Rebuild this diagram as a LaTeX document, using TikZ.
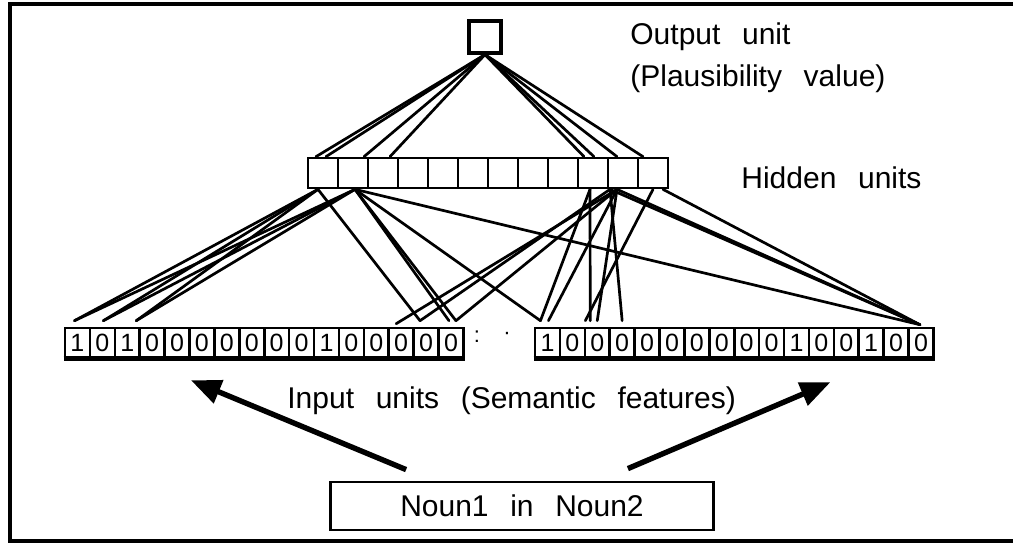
\documentclass[tikz,border=0pt]{standalone}
\usepackage{fontspec}
\setmainfont{Liberation Sans}[WordSpace=2.6]
\usetikzlibrary{arrows.meta,calc}
\begin{document}
\begin{tikzpicture}[x=0.5pt,y=-0.5pt,
  every node/.style={font=\fontsize{15}{18}\selectfont},
  link/.style={line width=1.35pt, line cap=round},
  unitbox/.style={draw, line width=1.6pt, minimum width=16pt, minimum height=16pt, inner sep=0pt},
  hcell/.style={draw, line width=1.35pt, minimum width=15pt, minimum height=15pt, inner sep=0pt},
  icell/.style={draw, line width=1.3pt, minimum width=12.45pt, minimum height=14.5pt, inner sep=0pt, font=\fontsize{12.5}{12.5}\selectfont},
  txt/.style={anchor=west, inner sep=0pt},
  bigarrow/.style={line width=2.7pt, -{Triangle[length=15pt,width=12pt]}},
  framestyle/.style={line width=1.6pt}]

\useasboundingbox (0,0) rectangle (1013,558);
\draw[framestyle] (1013,4) -- (10,4) -- (10,541) -- (1013,541);

% output unit
\node[unitbox] (out) at (485,37) {};
\node[txt] (outlab) at (630,37) {Output unit};
\node[txt] (outlab2) at (630,79) {(Plausibility value)};

% hidden units
\foreach \i in {1,...,12}
  \node[hcell] (h\i) at ({308+30*(\i-0.5)},173) {};
\node[txt] (hidlab) at (741,178) {Hidden units};

% input units
\foreach \v [count=\i] in {1,0,1,0,0,0,0,0,0,0,1,0,0,0,0,0}
  \node[icell] (a\i) at ({65+24.9*(\i-0.5)},342.5) {\v};
\foreach \v [count=\i] in {1,0,0,0,0,0,0,0,0,0,1,0,0,1,0,0}
  \node[icell] (b\i) at ({535+24.9*(\i-0.5)},342.5) {\v};
\draw[line width=2.2pt] (a1.south west) -- (a16.south east);
\draw[line width=2.2pt] (b1.south west) -- (b16.south east);
\node[inner sep=0pt, font=\fontsize{11}{11}\selectfont] (colon) at (477,337) {:};
\node[inner sep=0pt, font=\fontsize{11}{11}\selectfont] (dot) at (507,336) {·};

\node[txt] (inlab) at (287,401) {Input units (Semantic features)};

% noun box
\node[draw, line width=1.4pt, minimum width=191.5pt, minimum height=24pt, inner sep=0pt] (noun) at (522,506) {Noun1 in Noun2};

% ports on hidden layer (top)
\coordinate (t1) at ($(h1.north)+(-7,0)$);
\coordinate (t2) at ($(h1.north)+(3,0)$);
\coordinate (t3) at ($(h2.north)+(11,0)$);
\coordinate (t4) at ($(h3.north)+(7,0)$);
\coordinate (t5) at ($(h10.north)+(-9,0)$);
\coordinate (t6) at ($(h10.north)+(1,0)$);
\coordinate (t7) at ($(h11.north)+(-6,0)$);
\coordinate (t8) at ($(h12.north)+(-10,0)$);
\foreach \t in {t1,t2,t3,t4,t5,t6,t7,t8}
  \draw[link] (out.south) -- (\t);

% ports on hidden layer (bottom)
\coordinate (pA) at ($(h1.south)+(-5,0)$);
\coordinate (pB) at ($(h2.south)+(2,0)$);
\coordinate (pC) at ($(h10.south)+(-3,0)$);
\coordinate (pD) at ($(h11.south)+(-6,0)$);
\coordinate (pD2) at ($(h11.south)+(-13,0)$);
\coordinate (pE) at ($(h12.south)+(0,0)$);
\coordinate (pE2) at ($(h12.south)+(10,0)$);

% ports above input units
\coordinate (q1) at ($(a1.north)+(-3,-6)$);
\coordinate (q2) at ($(a2.north)+(1,-6)$);
\coordinate (q3) at ($(a3.north)+(9,-6)$);
\coordinate (q4) at ($(a14.north)+(-5,-3)$);
\coordinate (q5) at ($(a15.north)+(-6,-6)$);
\coordinate (q6) at ($(a16.north)+(-2,-6)$);
\coordinate (q7) at ($(a16.north)+(5,-6)$);
\coordinate (r1) at ($(b1.north)+(-7,-6)$);
\coordinate (r2) at ($(b1.north)+(1,-6)$);
\coordinate (r3) at ($(b2.north)+(13,-6)$);
\coordinate (r4) at ($(b3.north)+(-7,-6)$);
\coordinate (r5) at ($(b3.north)+(0,-6)$);
\coordinate (r6) at ($(b4.north)+(0,-6)$);
\coordinate (r7) at ($(b16.north)+(-1,-2)$);

% left hidden group
\foreach \q in {q1,q2,q3} {
  \draw[link] (pA) -- (\q);
  \draw[link] (pB) -- (\q);
}
\draw[link] (pA) -- (q5);
\draw[link] (pB) -- (q6);
\draw[link] (pB) -- (q7);
\draw[link] (pB) -- (r1);
\draw[link] (pB) -- (r7);

% right hidden group
\draw[link] (pD) -- (q4);
\draw[link] (pD2) -- (q5);
\draw[link] (pD) -- (q7);
\draw[link] (pC) -- (r1);
\draw[link] (pC) -- (r4);
\draw[link] (pD) -- (r2);
\draw[link] (pD) -- (r5);
\draw[link] (pD2) -- (r6);
\draw[link] (pE) -- (r3);
\draw[link] (pD) -- (r7);
\draw[link] (pD2) -- (r7);
\draw[link] (pE2) -- (r7);

% arrows from noun box
\coordinate (tailL) at ($(noun.north west)+(77,-11)$);
\coordinate (tailR) at ($(noun.north east)+(-87,-12)$);
\coordinate (tipL) at ($(a6.south)+(-11,22)$);
\coordinate (tipR) at ($(b12.south)+(9,24)$);
\draw[bigarrow] (tailL) -- (tipL);
\draw[bigarrow] (tailR) -- (tipR);
\end{tikzpicture}
\end{document}
